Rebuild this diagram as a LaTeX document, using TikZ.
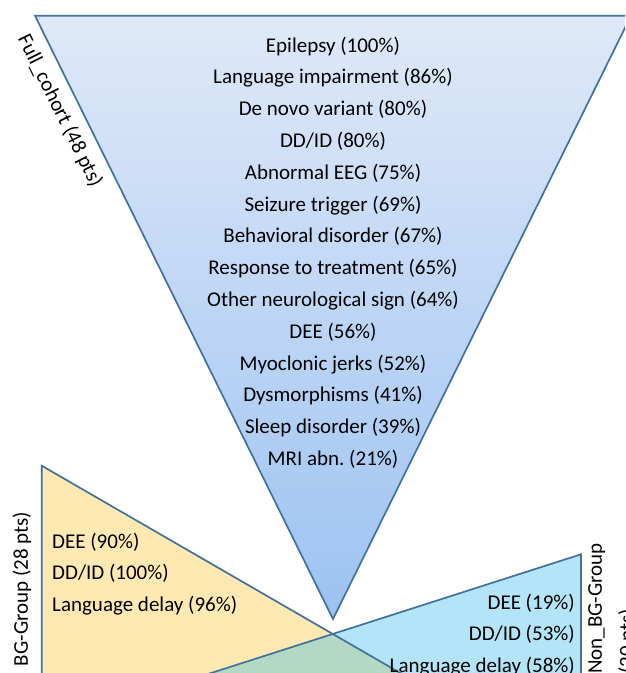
\documentclass[tikz,border=0pt]{standalone}
\usepackage{fontspec}
\setmainfont{Carlito}

\definecolor{edgeblue}{HTML}{41719C}
\definecolor{fulltop}{HTML}{DFE9F8}
\definecolor{fullbot}{HTML}{9CC2F2}
\definecolor{bgfill}{HTML}{FFE9B2}
\definecolor{nonbgfill}{HTML}{B3E4F7}
\definecolor{bothfill}{HTML}{B3D9C4}

\begin{document}
\begin{tikzpicture}[x=1pt,y=-1pt,
  tri/.style={draw=edgeblue, line width=1.7pt, line join=miter},
  lbl/.style={font=\fontsize{21}{31.8}\selectfont, inner sep=0pt}]
  \useasboundingbox (0,0) rectangle (625,673);
  \clip (0,0) rectangle (625,673);

  % corners
  \coordinate (ftl) at (35,15.7);
  \coordinate (ftr) at (631,15.7);
  \coordinate (fap) at (333,619);
  \coordinate (bgt) at (41.7,465.7);
  \coordinate (bgb) at (41.7,700);
  \coordinate (bgr) at (447,700);
  \coordinate (nbt) at (581,554.3);
  \coordinate (nbb) at (581,700);
  \coordinate (nbl) at (127,700);

  % groups
  \fill[bgfill] (bgt) -- (bgb) -- (bgr) -- cycle;
  \fill[nonbgfill] (nbt) -- (nbb) -- (nbl) -- cycle;
  \begin{scope}
    \clip (bgt) -- (bgb) -- (bgr) -- cycle;
    \fill[bothfill] (nbt) -- (nbb) -- (nbl) -- cycle;
  \end{scope}
  \draw[tri] (bgt) -- (bgb) -- (bgr) -- cycle;
  \draw[tri] (nbt) -- (nbb) -- (nbl) -- cycle;

  % full cohort
  \shadedraw[tri, top color=fulltop, bottom color=fullbot]
    (ftl) -- (ftr) -- (fap) -- cycle;

  \node[lbl, align=center, anchor=north] (fulltxt) at (333,36.5)
    {Epilepsy (100\%)\\ Language impairment (86\%)\\ De novo variant (80\%)\\
     DD/ID (80\%)\\ Abnormal EEG (75\%)\\ Seizure trigger (69\%)\\
     Behavioral disorder (67\%)\\ Response to treatment (65\%)\\
     Other neurological sign (64\%)\\ DEE (56\%)\\ Myoclonic jerks (52\%)\\
     Dysmorphisms (41\%)\\ Sleep disorder (39\%)\\ MRI abn.\ (21\%)};
  \node[lbl, align=left, anchor=north west] (bgtxt) at (52,532.5)
    {DEE (90\%)\\ DD/ID (100\%)\\ Language delay (96\%)};
  \node[lbl, align=right, anchor=north east] (nonbgtxt) at (575,593.5)
    {DEE (19\%)\\ DD/ID (53\%)\\ Language delay (58\%)};

  % side labels
  \node[lbl, rotate=-63.7] (fulllbl) at (60,111) {Full\_cohort (48 pts)};
  \node[lbl, rotate=90] (bglbl) at (22,589) {BG-Group (28 pts)};
  \node[lbl, rotate=90, align=left, anchor=north west] (nonbglbl) at (588,674)
    {Non\_BG-Group\\ (20 pts)};
\end{tikzpicture}
\end{document}
